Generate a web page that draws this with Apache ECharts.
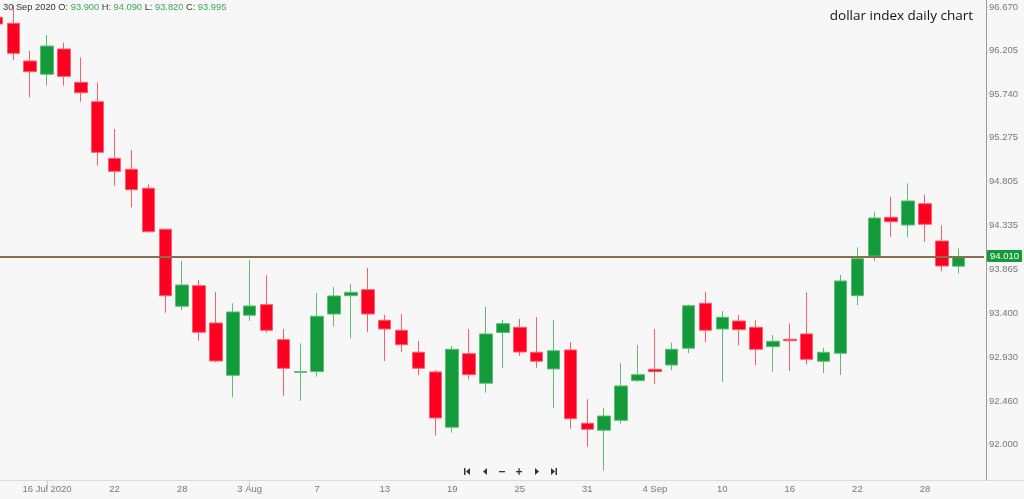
<!DOCTYPE html>
<html>
<head>
<meta charset="utf-8">
<script src="https://cdn.jsdelivr.net/npm/echarts@6/dist/echarts.min.js"></script>
<style>html,body{margin:0;padding:0;background:#f7f7f7;overflow:hidden;}#c{position:absolute;left:-12px;top:0;width:1036px;height:499px;}</style>
</head>
<body>
<div id="c"></div>
<script>
const categories = [
 '2020-07-13','2020-07-14','2020-07-15','2020-07-16','2020-07-17','2020-07-20','2020-07-21','2020-07-22','2020-07-23','2020-07-24','2020-07-27','2020-07-28','2020-07-29','2020-07-30','2020-07-31',
 '2020-08-03','2020-08-04','2020-08-05','2020-08-06','2020-08-07','2020-08-10','2020-08-11','2020-08-12','2020-08-13','2020-08-14','2020-08-17','2020-08-18','2020-08-19','2020-08-20','2020-08-21','2020-08-24','2020-08-25','2020-08-26','2020-08-27','2020-08-28','2020-08-31',
 '2020-09-01','2020-09-02','2020-09-03','2020-09-04','2020-09-07','2020-09-08','2020-09-09','2020-09-10','2020-09-11','2020-09-14','2020-09-15','2020-09-16','2020-09-17','2020-09-18','2020-09-21','2020-09-22','2020-09-23','2020-09-24','2020-09-25','2020-09-28','2020-09-29','2020-09-30',
 '2020-10-01'
];
const opens = [96.560,96.496,96.093,95.951,96.221,95.865,95.658,95.053,94.936,94.733,94.295,93.472,93.692,93.293,92.734,
 93.376,93.489,93.115,92.765,92.773,93.389,93.585,93.649,93.322,93.215,92.980,92.770,92.179,92.965,92.649,93.192,93.247,92.980,92.802,93.005,92.221,
 92.147,92.253,92.677,92.798,92.844,93.023,93.504,93.229,93.314,93.247,93.040,93.119,93.176,92.884,92.969,93.585,94.009,94.423,94.340,94.568,94.169,93.900];
const closes = [96.488,96.175,95.979,96.253,95.929,95.754,95.117,94.914,94.718,94.269,93.585,93.699,93.194,92.887,93.411,
 93.475,93.215,92.809,92.775,93.365,93.582,93.621,93.389,93.229,93.061,92.809,92.278,93.012,92.741,93.176,93.286,92.983,92.884,92.997,92.270,92.157,
 92.299,92.620,92.741,92.773,93.012,93.478,93.215,93.354,93.222,93.012,93.098,93.104,92.905,92.980,93.742,93.980,94.415,94.376,94.597,94.348,93.902,93.995];
const lows = [96.450,96.104,95.705,95.829,95.829,95.658,94.974,94.760,94.530,94.258,93.403,93.432,93.101,92.873,92.499,
 93.315,93.190,92.516,92.460,92.719,93.254,93.126,93.194,92.887,92.980,92.734,92.089,92.121,92.692,92.548,92.809,92.941,92.815,92.382,92.164,91.971,
 91.715,92.217,92.663,92.641,92.788,92.969,93.087,92.663,93.055,92.844,92.773,92.780,92.852,92.759,92.738,93.482,93.956,94.215,94.209,94.159,93.846,93.820];
const highs = [96.600,96.690,96.203,96.371,96.289,96.132,95.861,95.366,95.142,94.775,94.300,93.956,93.753,93.624,93.504,
 93.966,93.803,93.229,93.076,93.611,93.678,93.713,93.881,93.379,93.389,93.101,92.791,93.047,93.229,93.465,93.325,93.338,93.357,93.325,93.090,92.478,
 92.385,92.866,93.058,93.229,93.083,93.490,93.624,93.421,93.379,93.322,93.165,93.288,93.621,93.026,93.806,94.102,94.483,94.643,94.786,94.664,94.337,94.090];
const xLabelDates = ['2020-07-16','2020-07-22','2020-07-28','2020-08-03','2020-08-07','2020-08-13','2020-08-19','2020-08-25','2020-08-31','2020-09-04','2020-09-10','2020-09-16','2020-09-22','2020-09-28'];
const xLabelTexts = ['16 Jul 2020','22','28','3 Aug','7','13','19','25','31','4 Sep','10','16','22','28'];
const yTickLabels = ['92.000','92.460','92.930','93.400','93.865','94.335','94.805','95.275','95.740','96.205','96.670'];
const priceLineBid = 94.010;
const priceLineAsk = 94.000;
const chartTitle = 'dollar index daily chart';

const data = opens.map((o, i) => [o, closes[i], lows[i], highs[i]]);
const last = opens.length - 1;
const yTicks = yTickLabels.map(Number);
const GREEN = '#139a3a', RED = '#ff0022';
const SHIFT = 12; // container is shifted left by this many px so the first candle is cut

const chart = echarts.init(document.getElementById('c'), null, {renderer: 'canvas'});
const headerText = '{l|30 Sep 2020 O: }{v|' + opens[last].toFixed(3) + '}{l| H: }{v|' + highs[last].toFixed(3) +
  '}{l| L: }{v|' + lows[last].toFixed(3) + '}{l| C: }{v|' + closes[last].toFixed(3) + '}';

function tri(points){ return {type:'polygon', shape:{points: points.map(p => [p[0] + SHIFT, p[1]])}, style:{fill:'#333'}, silent:true}; }
function bar(x,y,w,h){ return {type:'rect', shape:{x: x + SHIFT, y, width:w, height:h}, style:{fill:'#333'}, silent:true}; }

chart.setOption({
  backgroundColor: '#f7f7f7',
  animation: false,
  textStyle: {fontFamily: 'Liberation Sans'},
  title: [
    {text: chartTitle, right: 46, top: 4, textStyle: {fontFamily: 'Open Sans', fontSize: 13.5, fontWeight: 'normal', color: '#111'}},
    {text: headerText, left: 3 + SHIFT, top: 3, padding: 0, textStyle: {fontWeight: 'normal', rich: {
      l: {color: '#333', fontSize: 9.3, fontWeight: 'normal', fontFamily: 'Liberation Sans'},
      v: {color: '#3aa757', fontSize: 9.3, fontWeight: 'normal', fontFamily: 'Liberation Sans'}}}}
  ],
  grid: {left: 0, right: 40, top: 0, bottom: 19},
  xAxis: {
    type: 'category', data: categories, boundaryGap: true,
    axisLine: {lineStyle: {color: '#dcdcdc'}},
    axisTick: {show: true, alignWithLabel: true, length: 9,
      interval: (i, v) => ['2020-07-16','2020-08-03'].includes(v), lineStyle: {color: '#cfcfcf'}},
    axisLabel: {interval: (i, v) => xLabelDates.includes(v),
      formatter: v => { const k = xLabelDates.indexOf(v); return k >= 0 ? xLabelTexts[k] : ''; },
      color: '#777', fontSize: 9.5, margin: 4},
    splitLine: {show: false}
  },
  yAxis: {
    type: 'value', position: 'right', offset: 2, min: 91.615, max: 96.745,
    axisLine: {show: true, lineStyle: {color: '#9a9a9a'}},
    axisTick: {show: true, length: 2, customValues: yTicks, lineStyle: {color: '#bbb'}},
    axisLabel: {customValues: yTicks, formatter: v => { const k = yTicks.indexOf(v); return k >= 0 ? yTickLabels[k] : v.toFixed(3); },
      color: '#777', fontSize: 9.5, margin: 3},
    splitLine: {show: false}
  },
  series: [{
    type: 'candlestick', data: data, barWidth: 13,
    itemStyle: {color: GREEN, color0: RED, borderColor: '#5cbd76', borderColor0: '#ff5c6c', borderWidth: 1},
    markLine: {
      silent: true, symbol: ['none', 'none'], animation: false,
      data: [
        {yAxis: priceLineAsk, lineStyle: {color: '#e0404a', width: 1, type: 'solid'}, label: {show: false}},
        {yAxis: priceLineBid, lineStyle: {color: '#2e9e4f', width: 1, type: 'solid'},
          label: {show: true, position: 'end', formatter: priceLineBid.toFixed(3), color: '#fff', backgroundColor: GREEN,
            fontSize: 9.5, padding: [1, 3, 1, 3], distance: 3, borderRadius: 1}}
      ]
    }
  }],
  graphic: [
    {type: 'line', shape: {x1: 984 + SHIFT, y1: 480.5, x2: 1024 + SHIFT, y2: 480.5}, style: {stroke: '#dcdcdc', lineWidth: 1}, silent: true},
    bar(464, 468, 1.5, 7), tri([[470,468],[470,475],[466,471.5]]),
    tri([[487,468],[487,475],[483,471.5]]),
    bar(499, 471, 6, 1.3),
    bar(516, 471, 6, 1.3), bar(518.4, 468.2, 1.3, 6.6),
    tri([[535,468],[535,475],[539,471.5]]),
    tri([[551,468],[551,475],[555,471.5]]), bar(555.5, 468, 1.5, 7)
  ]
});
</script>
</body>
</html>
